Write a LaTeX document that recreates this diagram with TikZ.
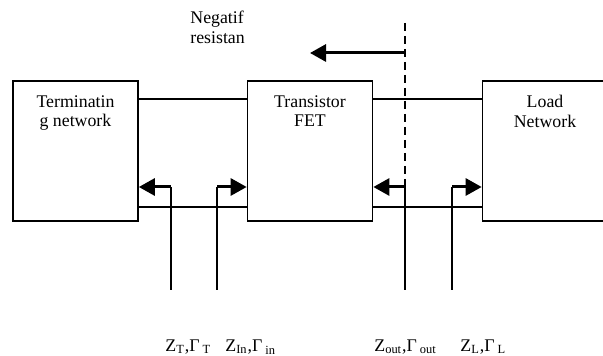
\documentclass[tikz,border=0pt]{standalone}
\usepackage{fontspec}
\setmainfont{Liberation Serif}
\usetikzlibrary{arrows.meta, positioning}
\newcommand{\figfont}{\fontsize{8.9pt}{9.8pt}\selectfont}
\tikzset{
  blk/.style={draw, line width=0.85pt, minimum width=62.5pt, minimum height=70pt, inner sep=0pt},
  btxt/.style={font=\figfont, align=center, inner sep=0pt},
  lnk/.style={line width=0.85pt},
  stem/.style={line width=0.8pt},
  prb/.style={-{Triangle[length=8pt,width=8.5pt]}, line width=1.5pt},
  cut/.style={dash pattern=on 4pt off 2.5pt, line width=1.3pt},
  zlab/.style={font=\figfont, inner sep=0pt, anchor=base west}
}

\begin{document}
\begin{tikzpicture}[x=0.5pt, y=-0.5pt]
	\useasboundingbox (0,0) rectangle (603,356);
	\coordinate (up) at (0,99);
	\coordinate (lo) at (0,207);
	\coordinate (ar) at (0,187);
	\coordinate (ng) at (0,53);
	\coordinate (dtop) at (405,23);
	\coordinate (pT) at (171,290);
	\coordinate (pI) at (217,290);
	\coordinate (pO) at (405,290);
	\coordinate (pL) at (452,290);
	\node[blk] (term) at (75.5,151) {};
	\node[blk] (fet) at (310,151) {};
	\node[blk] (load) at (545,151) {};
	\node[btxt, below=7.5pt of term.north] (termtx) {Terminatin\\g network};
	\node[btxt, below=7.5pt of fet.north] (fettx) {Transistor\\FET};
	\node[btxt, below=7.5pt of load.north] (loadtx) {Load\\Network};
	\node[btxt, align=left, anchor=north west] (negtx) at (190,11) {Negatif\\resistan};
	\draw[lnk] (term.east |- up) -- (fet.west |- up);
	\draw[lnk] (fet.east |- up) -- (load.west |- up);
	\draw[lnk] (term.east |- lo) -- (fet.west |- lo);
	\draw[lnk] (fet.east |- lo) -- (load.west |- lo);
	\draw[cut] (dtop) -- (pO |- ar);
	\draw[prb] (dtop |- ng) -- (fet.north |- ng);
	\foreach \p in {pT,pI,pO,pL}
		\draw[stem] (\p) -- (\p |- ar);
	\draw[prb] (pT |- ar) -- (term.east |- ar);
	\draw[prb] (pI |- ar) -- (fet.west |- ar);
	\draw[prb] (pO |- ar) -- (fet.east |- ar);
	\draw[prb] (pL |- ar) -- (load.west |- ar);
	\node[zlab] (zT) at (165,352) {Z\textsubscript{T},Γ\textsubscript{\kern1.5pt T}};
	\node[zlab] (zI) at (225,352) {Z\textsubscript{In},Γ\textsubscript{\kern1.5pt in}};
	\node[zlab] (zO) at (374,352) {Z\textsubscript{out},Γ\textsubscript{\kern1.5pt out}};
	\node[zlab] (zL) at (460,352) {Z\textsubscript{L},Γ\textsubscript{\kern1.5pt L}};
\end{tikzpicture}
\end{document}
